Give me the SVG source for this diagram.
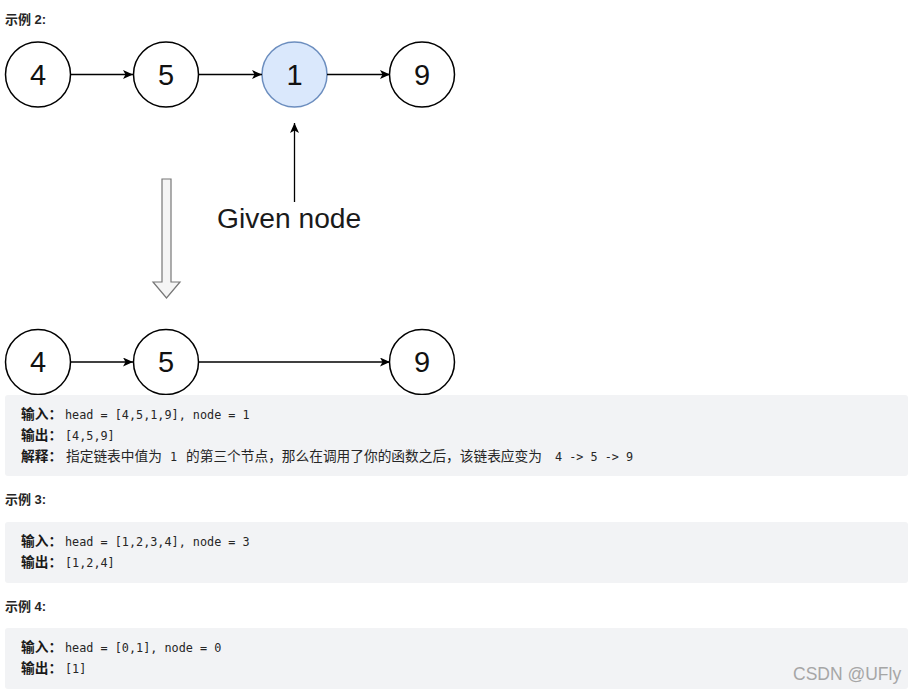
<svg xmlns="http://www.w3.org/2000/svg" width="916" height="693" viewBox="0 0 916 693">
<style>
.node{fill:#ffffff;stroke:#000000;stroke-width:1.5}
.hl{fill:#dae8fc;stroke:#6c8ebf;stroke-width:1.5}
.num{font-family:"Liberation Sans",Arial,sans-serif;font-size:29px;fill:#111;text-anchor:middle}
.edge{stroke:#000;stroke-width:1.3;fill:none;marker-end:url(#ah)}
.h{font-family:"Liberation Sans","Noto Sans CJK SC",sans-serif;font-size:13px;font-weight:bold;fill:#262626}
.box{fill:#f2f3f5}
.lbl{font-family:"Noto Sans CJK SC",sans-serif;font-size:13.7px;font-weight:bold;fill:#1a1a1a}
.cjk{font-family:"Noto Sans CJK SC",sans-serif;font-size:13.7px;fill:#262626}
.mono{font-family:"DejaVu Sans Mono","Liberation Mono",monospace;font-size:11.8px;fill:#262626}
</style>
<defs>
<marker id="ah" markerUnits="userSpaceOnUse" markerWidth="11" markerHeight="9" refX="10" refY="4.5" orient="auto">
<path d="M0,0 L10,4.5 L0,9 L2.5,4.5 z" fill="#000"/>
</marker>
</defs>
<rect width="916" height="693" fill="#ffffff"/>

<text class="h" x="5" y="24">示例 2:</text>

<g id="top-4"><circle class="node" cx="38" cy="74.5" r="32.5"/><text class="num" x="38" y="84.5">4</text></g>
<g id="top-5"><circle class="node" cx="166" cy="74.5" r="32.5"/><text class="num" x="166" y="84.5">5</text></g>
<g id="top-1"><circle class="hl" cx="294.5" cy="74.5" r="32.5"/><text class="num" x="294.5" y="84.5">1</text></g>
<g id="top-9"><circle class="node" cx="422" cy="74.5" r="32.5"/><text class="num" x="422" y="84.5">9</text></g>

<g id="given-node"><text x="217" y="228" font-family="'Liberation Sans',Arial,sans-serif" font-size="28.2" fill="#1a1a1a">Given node</text></g>

<g id="transform-arrow"><polygon points="162,179 171,179 171,282 180,282 166.5,298 153,282 162,282" fill="#f5f5f5" stroke="#777" stroke-width="1.2"/></g>

<g id="bot-4"><circle class="node" cx="38" cy="362" r="32.5"/><text class="num" x="38" y="372">4</text></g>
<g id="bot-5"><circle class="node" cx="166" cy="362" r="32.5"/><text class="num" x="166" y="372">5</text></g>
<g id="bot-9"><circle class="node" cx="422" cy="362" r="32.5"/><text class="num" x="422" y="372">9</text></g>

<g id="connectors">
<line class="edge" x1="71" y1="74.5" x2="133" y2="74.5"/>
<line class="edge" x1="199" y1="74.5" x2="262" y2="74.5"/>
<line class="edge" x1="327" y1="74.5" x2="390" y2="74.5"/>
<line class="edge" x1="294.5" y1="202" x2="294.5" y2="123"/>
<line class="edge" x1="71" y1="362" x2="133" y2="362"/>
<line class="edge" x1="199" y1="362" x2="390" y2="362"/>
</g>

<g id="example2-box">
<rect class="box" x="5" y="395" width="903" height="81" rx="3"/>
<text y="419"><tspan class="lbl" x="21">输入：</tspan><tspan class="mono" x="65">head = [4,5,1,9], node = 1</tspan></text>
<text y="440"><tspan class="lbl" x="21">输出：</tspan><tspan class="mono" x="65">[4,5,9]</tspan></text>
<text y="461"><tspan class="lbl" x="21">解释：</tspan><tspan class="cjk" x="66">指定链表中值为</tspan><tspan class="mono" x="170">1</tspan><tspan class="cjk" x="186">的第三个节点，那么在调用了你的函数之后，该链表应变为</tspan><tspan class="mono" x="555">4 -&gt; 5 -&gt; 9</tspan></text>
</g>

<text class="h" x="5" y="504">示例 3:</text>
<g id="example3-box">
<rect class="box" x="5" y="522" width="903" height="61" rx="3"/>
<text y="546"><tspan class="lbl" x="21">输入：</tspan><tspan class="mono" x="65">head = [1,2,3,4], node = 3</tspan></text>
<text y="567"><tspan class="lbl" x="21">输出：</tspan><tspan class="mono" x="65">[1,2,4]</tspan></text>
</g>

<text class="h" x="5" y="611">示例 4:</text>
<g id="example4-box">
<rect class="box" x="5" y="628" width="903" height="61" rx="3"/>
<text y="652"><tspan class="lbl" x="21">输入：</tspan><tspan class="mono" x="65">head = [0,1], node = 0</tspan></text>
<text y="673"><tspan class="lbl" x="21">输出：</tspan><tspan class="mono" x="65">[1]</tspan></text>
</g>

<text x="793" y="680" font-family="'Liberation Sans',Arial,sans-serif" font-size="17.5" fill="#a6a6a6">CSDN @UFly</text>
</svg>
